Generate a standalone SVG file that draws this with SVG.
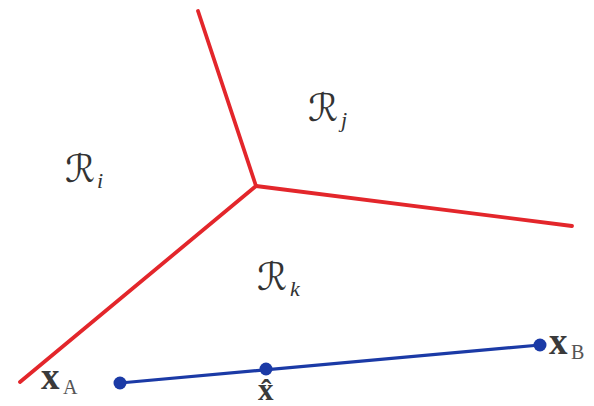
<svg xmlns="http://www.w3.org/2000/svg" width="594" height="406" viewBox="0 0 594 406">
<style>
.red{stroke:#e3262b;stroke-width:3.8;fill:none;stroke-linecap:round}
.blue{stroke:#1b3aa6;stroke-width:3.2;fill:none}
.dot{fill:#1b3aa6}
.R{font-family:"DejaVu Serif","DejaVu Sans",serif;font-size:38px;fill:#333}
.sub{font-family:"Liberation Serif",serif;font-style:italic;font-size:22px;fill:#333}
.x{font-family:"Liberation Serif",serif;font-weight:bold;font-size:37px;fill:#3a3a3a}
.xh{font-family:"Liberation Serif",serif;font-weight:bold;font-size:31px;fill:#3a3a3a}
.xs{font-family:"Liberation Serif",serif;font-size:20px;fill:#555}
</style>
<rect width="594" height="406" fill="#fff"/>
<g id="connectors">
<line class="red" x1="256" y1="186" x2="198" y2="11"/>
<line class="red" x1="256" y1="186" x2="572" y2="226"/>
<line class="red" x1="256" y1="186" x2="20" y2="382"/>
<line class="blue" x1="120" y1="383" x2="540" y2="345"/>
</g>
<g id="Ri"><text class="R" x="65" y="182">ℛ</text><text class="sub" x="97" y="188">i</text></g>
<g id="Rj"><text class="R" x="308" y="121">ℛ</text><text class="sub" x="341" y="127">j</text></g>
<g id="Rk"><text class="R" x="257" y="290">ℛ</text><text class="sub" x="290" y="296">k</text></g>
<g id="xA"><circle class="dot" cx="120" cy="383" r="6.5"/><text class="x" x="41" y="389">x</text><text class="xs" x="63" y="394">A</text></g>
<g id="xhat"><circle class="dot" cx="266" cy="369" r="6.5"/><text class="xh" x="258" y="400">x̂</text></g>
<g id="xB"><circle class="dot" cx="540" cy="345" r="6.5"/><text class="x" x="549" y="354">x</text><text class="xs" x="571" y="359">B</text></g>
</svg>
